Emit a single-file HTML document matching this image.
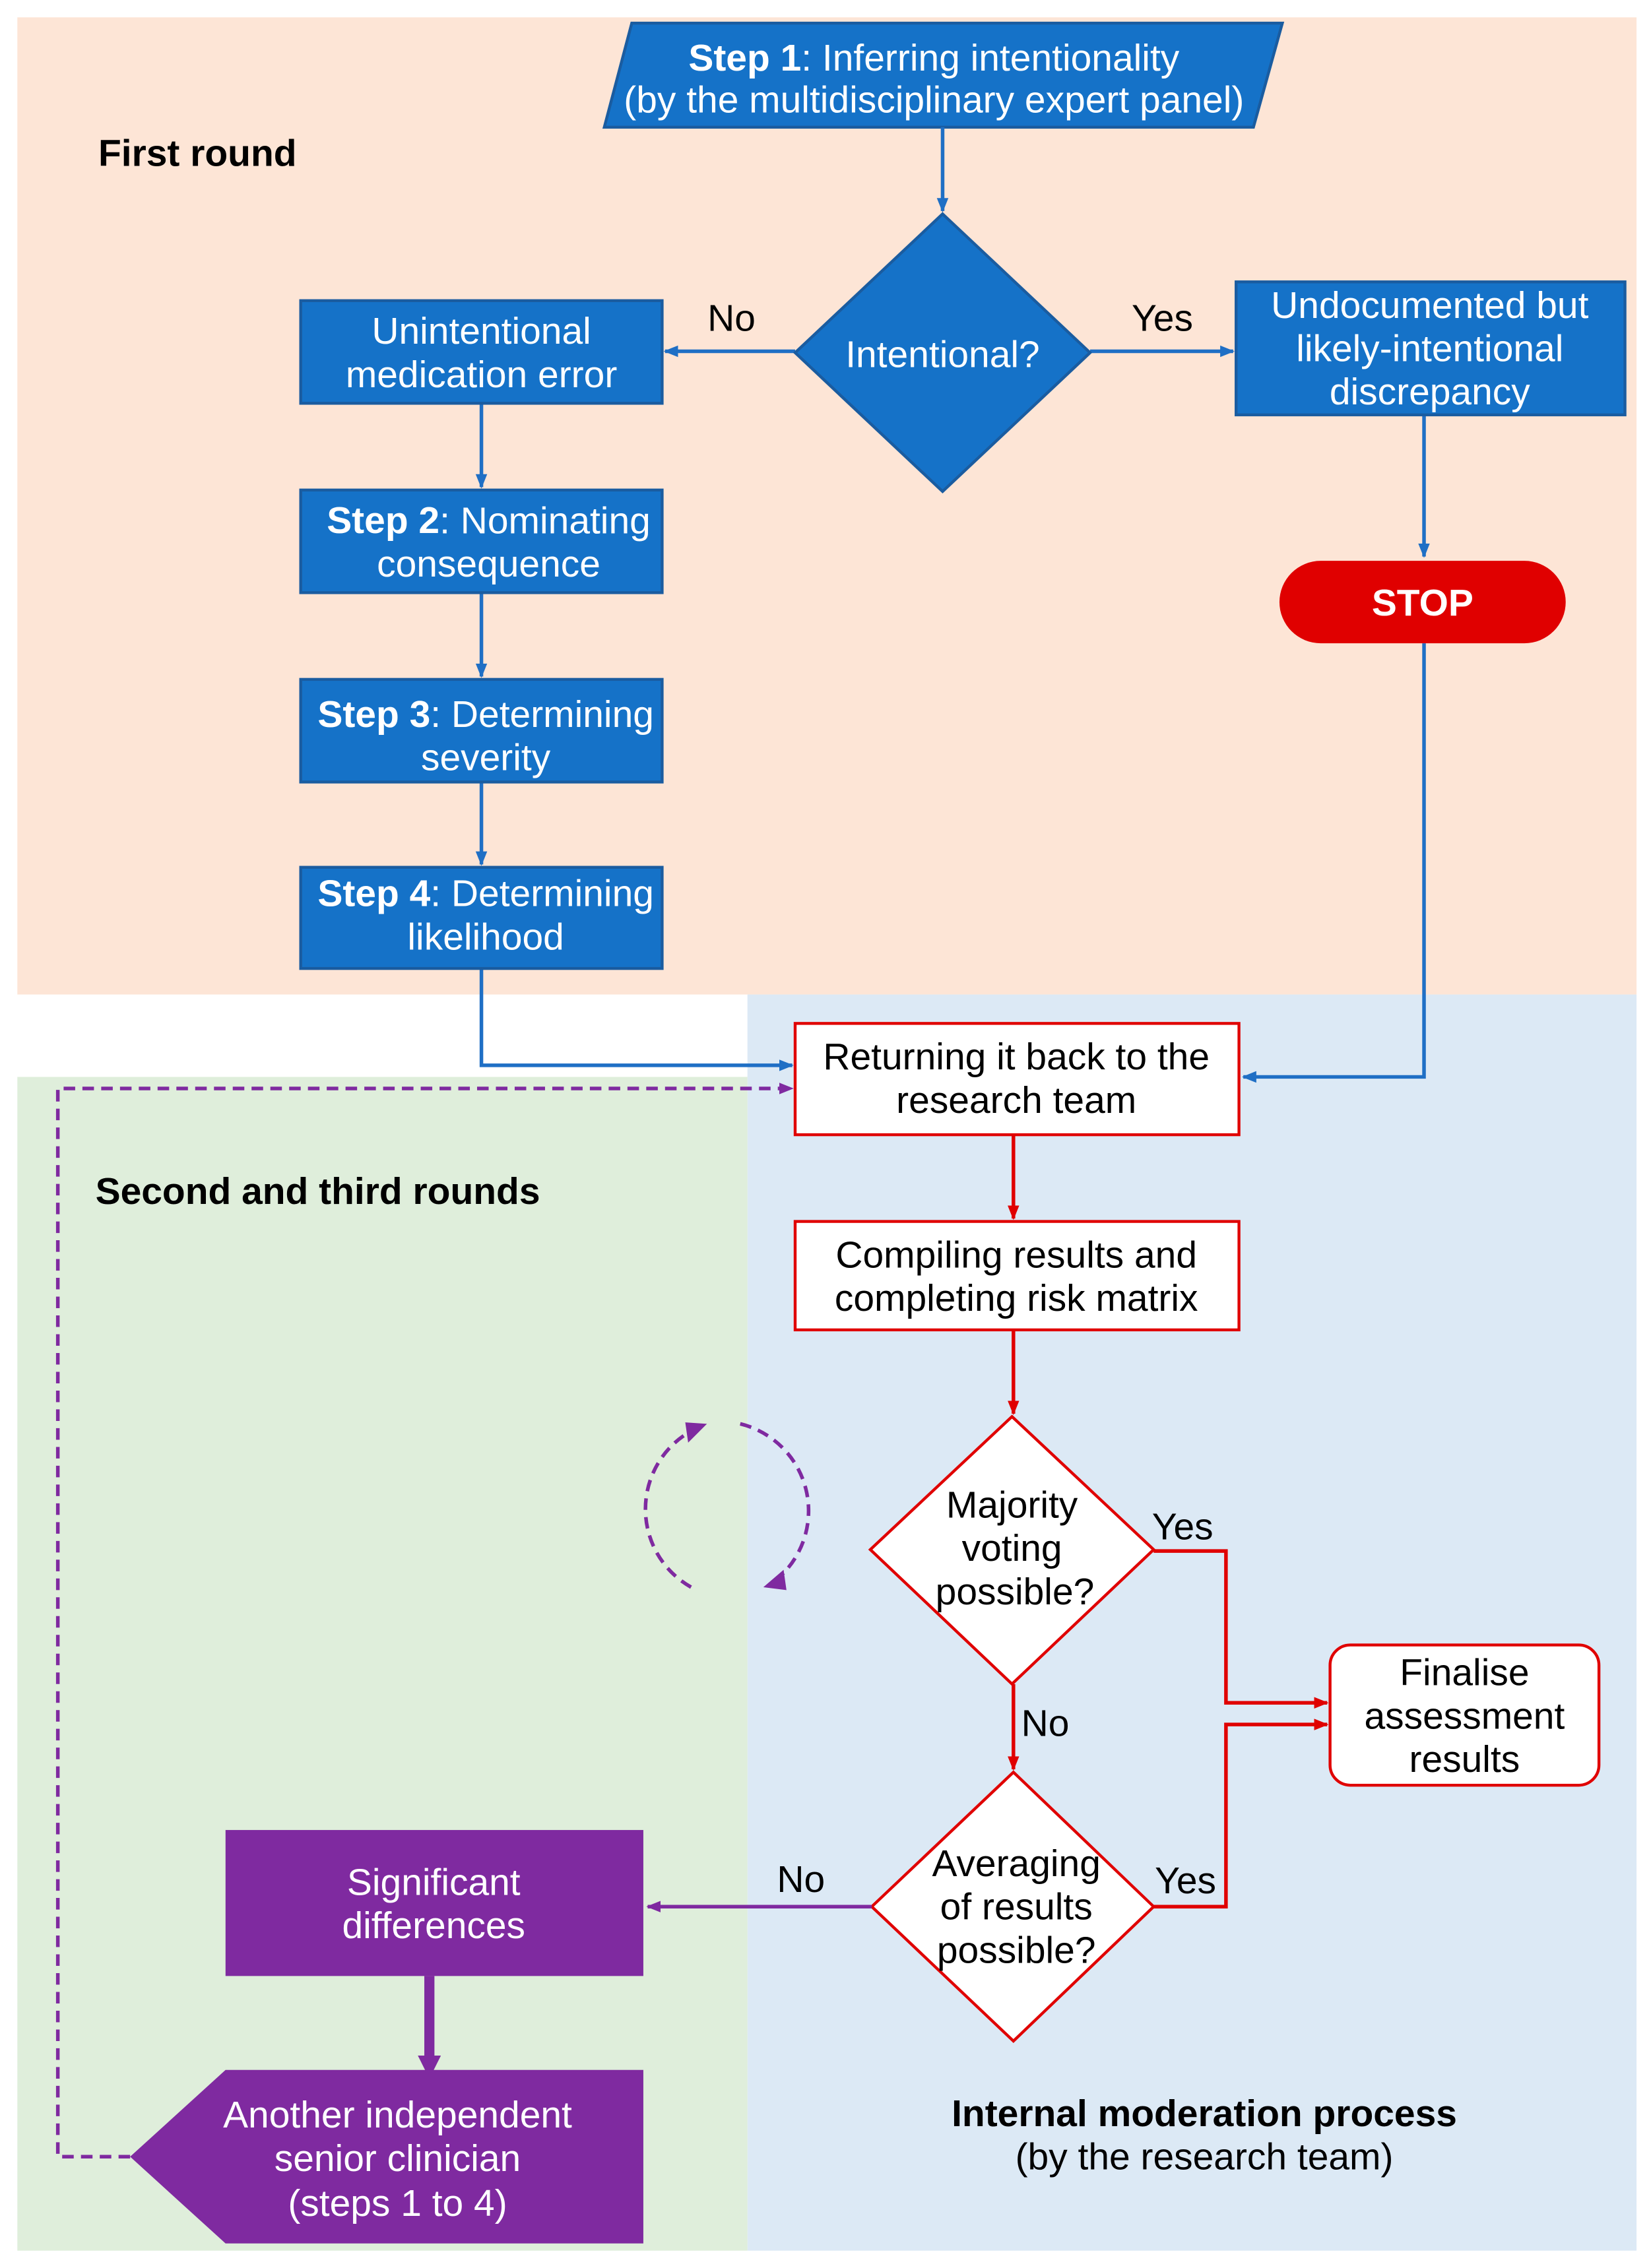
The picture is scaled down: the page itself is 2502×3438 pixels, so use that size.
<!DOCTYPE html>
<html><head><meta charset="utf-8"><style>
html,body{margin:0;padding:0;background:#fff;}
svg{display:block;}
text{font-family:"Liberation Sans",Arial,sans-serif;font-size:26px;text-anchor:middle;dominant-baseline:middle;}
.w{fill:#fff;}
.b{font-weight:bold;}
</style></head><body>
<svg width="2502" height="3438" viewBox="0 0 1142 1569" preserveAspectRatio="none" xmlns="http://www.w3.org/2000/svg">
<defs>
<marker id="ab" markerWidth="10" markerHeight="10" refX="9" refY="5" orient="auto" markerUnits="userSpaceOnUse"><path d="M0,1 L10,5 L0,9 z" fill="#1f6fc5"/></marker>
<marker id="ar" markerWidth="10" markerHeight="10" refX="9" refY="5" orient="auto" markerUnits="userSpaceOnUse"><path d="M0,1 L10,5 L0,9 z" fill="#e00000"/></marker>
<marker id="ap" markerWidth="10" markerHeight="10" refX="9" refY="5" orient="auto" markerUnits="userSpaceOnUse"><path d="M0,1 L10,5 L0,9 z" fill="#7f2aa0"/></marker>
<marker id="ap2" markerWidth="16" markerHeight="16" refX="8" refY="8" orient="auto" markerUnits="userSpaceOnUse"><path d="M0,0 L16,8 L0,16 z" fill="#7f2aa0"/></marker>
</defs>
<rect x="12" y="12" width="1120" height="676" fill="#fde5d6"/>
<rect x="517" y="688" width="615" height="869" fill="#dce9f5"/>
<rect x="12" y="745" width="505" height="812" fill="#dfeedb"/>

<g transform="translate(0,2)">
<polygon points="437,14 887,14 867,86 418,86" fill="#1572c8" stroke="#1a5ca0" stroke-width="2"/>
</g>
<text x="646" y="42" class="w"><tspan class="b">Step 1</tspan>: Inferring intentionality</text>
<text x="646" y="71" class="w">(by the multidisciplinary expert panel)</text>
<text x="68" y="108" class="b" style="text-anchor:start">First round</text>

<g stroke="#1f6fc5" stroke-width="2.5" fill="none">
<line x1="652" y1="88" x2="652" y2="146" marker-end="url(#ab)"/>
<line x1="550" y1="243" x2="460" y2="243" marker-end="url(#ab)"/>
<line x1="754" y1="243" x2="853" y2="243" marker-end="url(#ab)"/>
<line x1="333" y1="279" x2="333" y2="337" marker-end="url(#ab)"/>
<line x1="333" y1="410" x2="333" y2="468" marker-end="url(#ab)"/>
<line x1="333" y1="541" x2="333" y2="598" marker-end="url(#ab)"/>
<line x1="985" y1="287" x2="985" y2="385" marker-end="url(#ab)"/>
<polyline points="985,445 985,745 860,745" marker-end="url(#ab)"/>
<polyline points="333,670 333,737 548,737" marker-end="url(#ab)"/>
</g>
<polygon points="652,148 754,244 652,340 550,244" fill="#1572c8" stroke="#1a5ca0" stroke-width="2"/>
<text x="652" y="247" class="w">Intentional?</text>
<text x="506" y="222">No</text>
<text x="804" y="222">Yes</text>

<g fill="#1572c8" stroke="#1a5ca0" stroke-width="2">
<rect x="208" y="208" width="250" height="71"/>
<rect x="855" y="195" width="269" height="92"/>
<rect x="208" y="339" width="250" height="71"/>
<rect x="208" y="470" width="250" height="71"/>
<rect x="208" y="600" width="250" height="70"/>
</g>
<text x="333" y="231" class="w">Unintentional</text>
<text x="333" y="261" class="w">medication error</text>
<text x="989" y="213" class="w">Undocumented but</text>
<text x="989" y="243" class="w">likely-intentional</text>
<text x="989" y="273" class="w">discrepancy</text>
<text x="338" y="362" class="w"><tspan class="b">Step 2</tspan>: Nominating</text>
<text x="338" y="392" class="w">consequence</text>
<text x="336" y="496" class="w"><tspan class="b">Step 3</tspan>: Determining</text>
<text x="336" y="526" class="w">severity</text>
<text x="336" y="620" class="w"><tspan class="b">Step 4</tspan>: Determining</text>
<text x="336" y="650" class="w">likelihood</text>

<rect x="885" y="388" width="198" height="57" rx="28.5" fill="#e00000"/>
<text x="984" y="419" class="w b">STOP</text>

<rect x="550" y="708" width="307" height="77" fill="#fff" stroke="#e00000" stroke-width="2"/>
<text x="703" y="733">Returning it back to the</text>
<text x="703" y="763">research team</text>
<rect x="550" y="845" width="307" height="75" fill="#fff" stroke="#e00000" stroke-width="2"/>
<text x="703" y="870">Compiling results and</text>
<text x="703" y="900">completing risk matrix</text>

<g stroke="#e00000" stroke-width="2.5" fill="none">
<line x1="701" y1="785" x2="701" y2="843" marker-end="url(#ar)"/>
<line x1="701" y1="920" x2="701" y2="978" marker-end="url(#ar)"/>
<line x1="701" y1="1165" x2="701" y2="1224" marker-end="url(#ar)"/>
<polyline points="798,1073 848,1073 848,1178 918,1178" marker-end="url(#ar)"/>
<polyline points="798,1319 848,1319 848,1193 918,1193" marker-end="url(#ar)"/>
</g>
<polygon points="700,980 798,1072 700,1165 602,1072" fill="#fff" stroke="#e00000" stroke-width="2"/>
<text x="700" y="1043">Majority</text>
<text x="700" y="1073">voting</text>
<text x="702" y="1103">possible?</text>
<polygon points="701,1226 798,1319 701,1412 603,1319" fill="#fff" stroke="#e00000" stroke-width="2"/>
<text x="703" y="1291">Averaging</text>
<text x="703" y="1321">of results</text>
<text x="703" y="1351">possible?</text>
<text x="818" y="1058">Yes</text>
<text x="723" y="1194">No</text>
<text x="820" y="1303">Yes</text>
<text x="554" y="1302">No</text>
<rect x="920" y="1138" width="186" height="97" rx="14" fill="#fff" stroke="#e00000" stroke-width="2"/>
<text x="1013" y="1159">Finalise</text>
<text x="1013" y="1189">assessment</text>
<text x="1013" y="1219">results</text>

<line x1="603" y1="1319" x2="448" y2="1319" stroke="#7f2aa0" stroke-width="2.5" marker-end="url(#ap)"/>
<rect x="156" y="1266" width="289" height="101" fill="#7f2aa0"/>
<text x="300" y="1304" class="w">Significant</text>
<text x="300" y="1334" class="w">differences</text>
<line x1="297" y1="1367" x2="297" y2="1430" stroke="#7f2aa0" stroke-width="7" marker-end="url(#ap2)"/>
<polygon points="156,1432 445,1432 445,1552 156,1552 90,1492" fill="#7f2aa0"/>
<text x="275" y="1465" class="w">Another independent</text>
<text x="275" y="1495" class="w">senior clinician</text>
<text x="275" y="1526" class="w">(steps 1 to 4)</text>

<polyline points="90,1492 40,1492 40,753 548,753" fill="none" stroke="#7f2aa0" stroke-width="2.5" stroke-dasharray="8,5" marker-end="url(#ap)"/>
<path d="M478,1098 A62,62 0 0 1 478,990" fill="none" stroke="#7f2aa0" stroke-width="2.5" stroke-dasharray="8,5"/>
<polygon points="489,985 476,998 474,984" fill="#7f2aa0"/>
<path d="M512,985 A62,62 0 0 1 538,1092" fill="none" stroke="#7f2aa0" stroke-width="2.5" stroke-dasharray="8,5"/>
<polygon points="528,1098 542,1086 544,1100" fill="#7f2aa0"/>

<text x="66" y="826" class="b" style="text-anchor:start">Second and third rounds</text>
<text x="833" y="1464" class="b">Internal moderation process</text>
<text x="833" y="1494">(by the research team)</text>
</svg>
</body></html>
